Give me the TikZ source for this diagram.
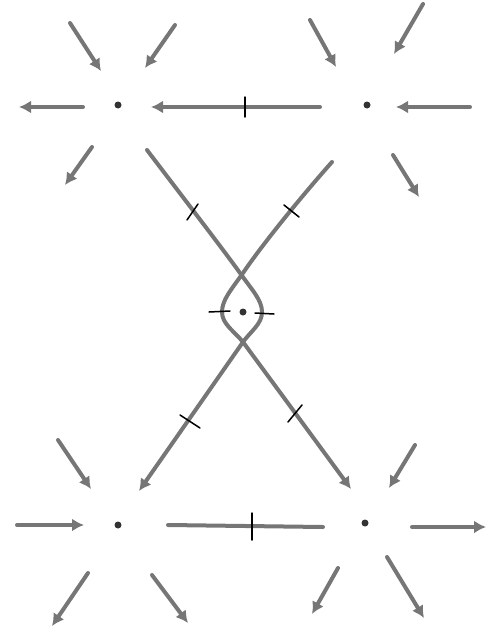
\documentclass[tikz,border=0pt]{standalone}
\usetikzlibrary{arrows.meta}
\definecolor{trajcol}{RGB}{118,118,118}
\begin{document}
\begin{tikzpicture}[x=1pt,y=-1pt,
  traj/.style={draw=trajcol, line width=4pt, line cap=round},
  arr/.style={traj, -{Latex[length=12pt,width=13pt]}},
  tickmark/.style={draw=black, line width=1.5pt, line cap=round},
  fixpt/.style={circle, fill=black!80, inner sep=0pt, minimum size=7pt}]
\useasboundingbox (0,0) rectangle (487,634);

% fixed points
\node[fixpt] (TL) at (118,105) {};
\node[fixpt] (TR) at (367,105) {};
\node[fixpt] (C)  at (243,312) {};
\node[fixpt] (BL) at (118,525) {};
\node[fixpt] (BR) at (365,523) {};

% ---- top-left cluster
\coordinate (tl1s) at (70,23);   \coordinate (tl1e) at (101,71);
\coordinate (tl2s) at (175,25);  \coordinate (tl2e) at (145,68);
\coordinate (tl3s) at (83,107);  \coordinate (tl3e) at (19,107);
\coordinate (tl4s) at (92,147);  \coordinate (tl4e) at (65,185);
\draw[arr] (tl1s) -- (tl1e);
\draw[arr] (tl2s) -- (tl2e);
\draw[arr] (tl3s) -- (tl3e);
\draw[arr] (tl4s) -- (tl4e);

% ---- top-right cluster
\coordinate (tr1s) at (310,20);  \coordinate (tr1e) at (336,67);
\coordinate (tr2s) at (423,4);   \coordinate (tr2e) at (394,54);
\coordinate (tr3s) at (470,107); \coordinate (tr3e) at (396,107);
\coordinate (tr4s) at (393,155); \coordinate (tr4e) at (419,197);
\draw[arr] (tr1s) -- (tr1e);
\draw[arr] (tr2s) -- (tr2e);
\draw[arr] (tr3s) -- (tr3e);
\draw[arr] (tr4s) -- (tr4e);

% ---- top heteroclinic line
\coordinate (th1) at (320,107); \coordinate (th2) at (151,107);
\draw[arr] (th1) -- (th2);
\draw[tickmark] (245,97) -- (245,117);

% ---- crossing strands
\coordinate (sA) at (147,150);
\coordinate (eA) at (139,491);
\coordinate (sB) at (332,162);
\coordinate (eB) at (351,489);
\draw[arr] (sA) .. controls (185,200) and (222,248) .. (240,273)
  .. controls (252,290) and (262,300) .. (262,312)
  .. controls (262,324) and (251,331) .. (243,342)
  -- (eA);
\draw[arr] (sB) .. controls (300,198) and (262,245) .. (243,273)
  .. controls (231,290) and (222,300) .. (222,312)
  .. controls (222,324) and (234,331) .. (243,342)
  -- (eB);
\draw[tickmark] (198,204) -- (187,220);
\draw[tickmark] (284,205) -- (299,217);
\draw[tickmark] (209,312) -- (230,311);
\draw[tickmark] (255,313) -- (274,314);
\draw[tickmark] (180,415) -- (200,428);
\draw[tickmark] (288,422) -- (302,405);

% ---- bottom-left cluster
\coordinate (bl1s) at (58,440);  \coordinate (bl1e) at (91,489);
\coordinate (bl2s) at (17,525);  \coordinate (bl2e) at (84,525);
\coordinate (bl3s) at (88,573);  \coordinate (bl3e) at (52,626);
\coordinate (bl4s) at (152,575); \coordinate (bl4e) at (188,623);
\draw[arr] (bl1s) -- (bl1e);
\draw[arr] (bl2s) -- (bl2e);
\draw[arr] (bl3s) -- (bl3e);
\draw[arr] (bl4s) -- (bl4e);

% ---- bottom-right cluster
\coordinate (br1s) at (415,445); \coordinate (br1e) at (389,488);
\coordinate (br2s) at (412,527); \coordinate (br2e) at (486,527);
\coordinate (br3s) at (338,568); \coordinate (br3e) at (312,614);
\coordinate (br4s) at (387,557); \coordinate (br4e) at (424,618);
\draw[arr] (br1s) -- (br1e);
\draw[arr] (br2s) -- (br2e);
\draw[arr] (br3s) -- (br3e);
\draw[arr] (br4s) -- (br4e);

% ---- bottom heteroclinic line
\coordinate (bh1) at (168,525); \coordinate (bh2) at (323,527);
\draw[traj] (bh1) -- (bh2);
\draw[tickmark] (252,513) -- (252,540);
\end{tikzpicture}
\end{document}
